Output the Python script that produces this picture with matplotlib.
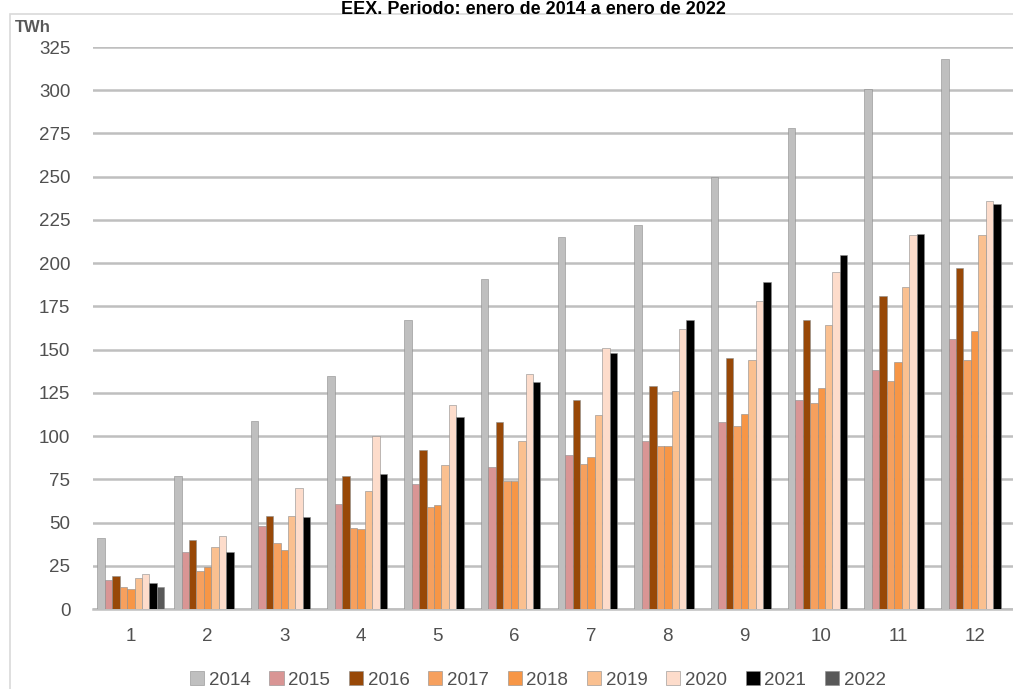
import matplotlib
matplotlib.use("Agg")
import matplotlib.pyplot as plt
from matplotlib.patches import Rectangle
import numpy as np

plt.rcParams['font.family'] = ['Liberation Sans', 'DejaVu Sans']

months = ["1", "2", "3", "4", "5", "6", "7", "8", "9", "10", "11", "12"]
years = ["2014", "2015", "2016", "2017", "2018", "2019", "2020", "2021", "2022"]

v2014 = [41, 77, 109, 135, 167, 191, 215, 222, 250, 278, 301, 318]
v2015 = [17, 33, 48, 61, 72, 82, 89, 97, 108, 121, 138, 156]
v2016 = [19, 40, 54, 77, 92, 108, 121, 129, 145, 167, 181, 197]
v2017 = [12.5, 22, 38, 47, 59, 74, 84, 94, 106, 119, 132, 144]
v2018 = [11.5, 24, 34, 46, 60, 74, 88, 94, 113, 128, 143, 161]
v2019 = [18, 36, 54, 68, 83, 97, 112, 126, 144, 164, 186, 216]
v2020 = [20, 42, 70, 100, 118, 136, 151, 162, 178, 195, 216, 236]
v2021 = [15, 33, 53, 78, 111, 131, 148, 167, 189, 205, 217, 234]
v2022 = [12.5]

series = [v2014, v2015, v2016, v2017, v2018, v2019, v2020, v2021, v2022]
colors = ["#BFBFBF", "#D99594", "#984807", "#F6A05E", "#F79646",
          "#FAC090", "#FDDCCB", "#000000", "#595959"]

y_ticks = list(range(0, 326, 25))

W, H = 1013, 689
fig = plt.figure(figsize=(W / 100, H / 100), dpi=100)

# outer chart frame
fig.add_artist(Rectangle((10 / W, -0.05), 1.2, 1.05 - 14 / H,
                         transform=fig.transFigure, facecolor="none",
                         edgecolor="#D9D9D9", linewidth=1.2, zorder=0))

ax = fig.add_axes([92.5 / W, 1 - 609 / H, 920.5 / W, 562 / H])
ax.set_facecolor("none")

n = len(series)
bw = 0.097
x = np.arange(len(months))
for i, (vals, col, yr) in enumerate(zip(series, colors, years)):
    xpos = x[:len(vals)] + (i - (n - 1) / 2) * bw
    ax.bar(xpos, vals, width=bw, color=col, edgecolor="#8c8c8c",
           linewidth=0.4, label=yr, zorder=3)

ax.set_xlim(-0.5, len(months) - 0.5)
ax.set_ylim(0, 325)
ax.set_yticks(y_ticks)
ax.set_yticklabels([str(t) for t in y_ticks])
ax.set_xticks(x)
ax.set_xticklabels(months)
ax.tick_params(length=0, labelsize=13.5, colors="#505050", pad=16)
ax.tick_params(axis="x", pad=14)

ax.grid(axis="y", color="#BFBFBF", linewidth=1.8, zorder=0)
ax.grid(axis="x", visible=False)
for s in ["top", "right", "left"]:
    ax.spines[s].set_visible(False)
ax.spines["bottom"].set_color("#BFBFBF")
ax.spines["bottom"].set_linewidth(1.8)

fig.text(15 / W, 1 - 27 / H, "TWh", fontsize=12, fontweight="bold",
         color="#595959", va="center", ha="left")

fig.text(533 / W, 1 - 1 / H, "EEX. Periodo: enero de 2014 a enero de 2022",
         fontsize=13, fontweight="bold", color="#000000",
         ha="center", va="top")

handles, labels = ax.get_legend_handles_labels()
fig.legend(handles, labels, loc="center", bbox_to_anchor=(538 / W, 1 - 680 / H),
           ncol=9, frameon=False, fontsize=13.5, labelcolor="#505050",
           handlelength=0.75, handleheight=0.75, handletextpad=0.25,
           columnspacing=1.0, borderaxespad=0)

fig.savefig("out.png", dpi=100)
